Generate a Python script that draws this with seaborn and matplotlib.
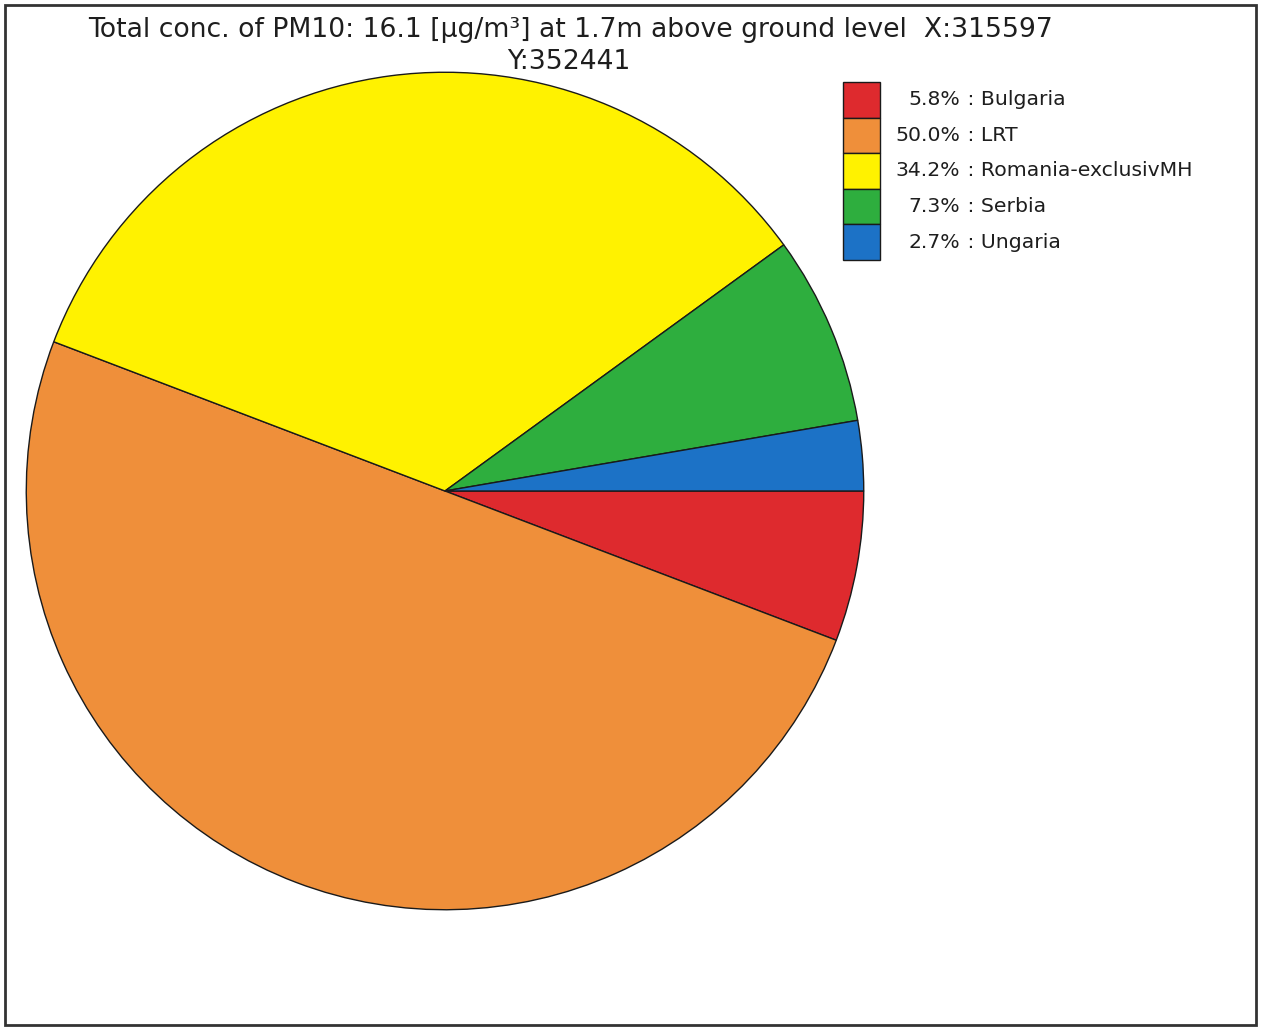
import matplotlib
matplotlib.use("Agg")
import matplotlib.pyplot as plt
from matplotlib.patches import Rectangle
import seaborn as sns

# ---- data ----
names = ["Bulgaria", "LRT", "Romania-exclusivMH", "Serbia", "Ungaria"]
shares = [5.8, 50.0, 34.2, 7.3, 2.7]
colors = ["#de2a2e", "#ef8f3a", "#fff200", "#2eae3e", "#1c72c6"]
title_line1 = "Total conc. of PM10: 16.1 [µg/m³] at 1.7m above ground level  X:315597"
title_line2 = "Y:352441"

sns.set_theme(style="white")
plt.rcParams['font.family'] = ['DejaVu Sans']

W, H = 1262, 1028
fig = plt.figure(figsize=(W / 100, H / 100), dpi=100)
fig.patch.set_facecolor("white")

# pie axes: centre (445, 491) px, radius 420 px
cx, cy, r = 445, 491, 420
ax = fig.add_axes([(cx - r) / W, (H - cy - r) / H, 2 * r / W, 2 * r / H])
ax.pie(shares, colors=colors, startangle=0, counterclock=False, radius=1.0,
       wedgeprops=dict(edgecolor="#1a1a1a", linewidth=1.0))
ax.set_xlim(-1.003, 1.003)
ax.set_ylim(-1.003, 1.003)
ax.set_aspect("equal")
ax.axis("off")

# title
fig.text(571 / W, 1 - 30 / H, title_line1, ha="center", va="center",
         fontsize=19.2, color="#1e1e1e")
fig.text(569 / W, 1 - 62 / H, title_line2, ha="center", va="center",
         fontsize=19.2, color="#1e1e1e")

# legend (stacked swatches)
sw_x0, sw_x1 = 843, 880
top, h = 82, 35.6
for i, (n, s, c) in enumerate(zip(names, shares, colors)):
    y0 = top + i * h
    fig.add_artist(Rectangle((sw_x0 / W, 1 - (y0 + h) / H), (sw_x1 - sw_x0) / W, h / H,
                             transform=fig.transFigure, facecolor=c,
                             edgecolor="#1a1a1a", linewidth=1.0))
    yc = 1 - (y0 + h / 2) / H
    fig.text(960 / W, yc, f"{s:.1f}%", ha="right", va="center", fontsize=14.7, color="#1e1e1e")
    fig.text(961 / W, yc, f" : {n}", ha="left", va="center", fontsize=14.7, color="#1e1e1e")

# outer frame
fig.add_artist(Rectangle((5 / W, 3 / H), 1251 / W, 1020 / H, transform=fig.transFigure,
                         fill=False, edgecolor="#333333", linewidth=2.0))

fig.savefig("out.png", dpi=100)
